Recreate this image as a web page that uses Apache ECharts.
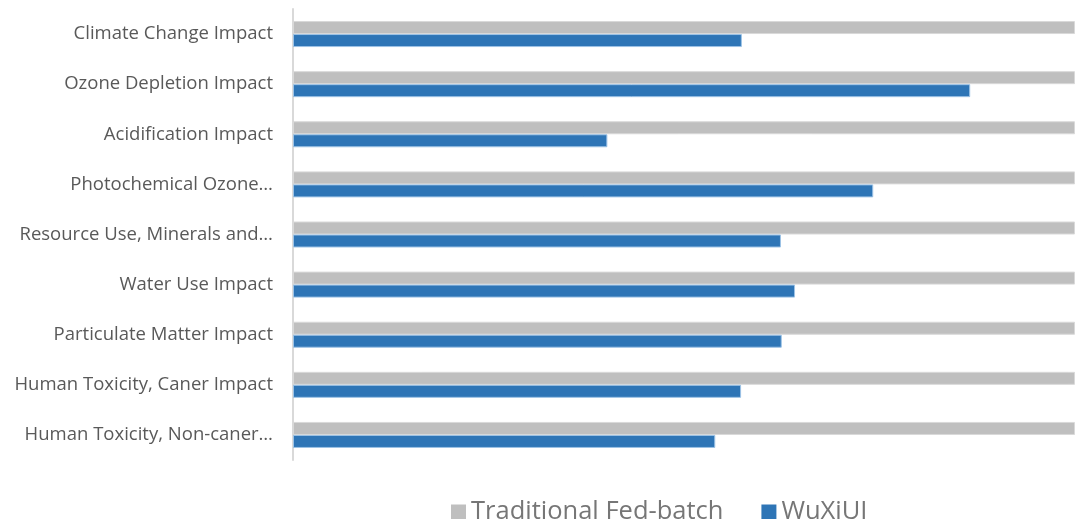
<!DOCTYPE html>
<html>
<head>
<meta charset="utf-8">
<script src="https://cdn.jsdelivr.net/npm/echarts@6/dist/echarts.min.js"></script>
<style>
  html, body { margin: 0; padding: 0; background: #fff; }
  #chart { width: 1075px; height: 519px; }
</style>
</head>
<body>
<div id="chart"></div>
<script>
// categories, top to bottom
const categories = [
  'Climate Change Impact',
  'Ozone Depletion Impact',
  'Acidification Impact',
  'Photochemical Ozone…',
  'Resource Use, Minerals and…',
  'Water Use Impact',
  'Particulate Matter Impact',
  'Human Toxicity, Caner Impact',
  'Human Toxicity, Non-caner…'
];
// relative impact, traditional process = 100
const traditionalFedBatch = [100, 100, 100, 100, 100, 100, 100, 100, 100];
const wuXiUI = [57.4, 86.6, 40.2, 74.2, 62.4, 64.2, 62.5, 57.3, 54.0];

const chart = echarts.init(document.getElementById('chart'));
chart.setOption({
  animation: false,
  textStyle: { fontFamily: 'Open Sans' },
  grid: { left: 293, right: 0, top: 9, bottom: 59 },
  legend: {
    left: 446,
    top: 494,
    itemWidth: 15,
    itemHeight: 15,
    itemGap: 38,
    icon: 'rect',
    itemStyle: { borderWidth: 0 },
    textStyle: { fontSize: 25.5, color: '#767676', fontFamily: 'Open Sans' },
    data: ['Traditional Fed-batch', 'WuXiUI']
  },
  xAxis: {
    type: 'value',
    min: 0,
    max: 100,
    show: false
  },
  yAxis: {
    type: 'category',
    inverse: true,
    data: categories,
    axisLine: { lineStyle: { color: '#D9D9D9', width: 2 } },
    axisTick: { show: false },
    axisLabel: { fontSize: 18.5, color: '#595959', margin: 20, padding: [4, 0, 0, 0] }
  },
  series: [
    {
      name: 'Traditional Fed-batch',
      type: 'bar',
      data: traditionalFedBatch,
      barWidth: 13,
      barGap: '0%',
      itemStyle: { color: '#BFBFBF', borderColor: '#D9D9D9', borderWidth: 1 }
    },
    {
      name: 'WuXiUI',
      type: 'bar',
      data: wuXiUI,
      barWidth: 13,
      barGap: '0%',
      itemStyle: { color: '#2E75B6', borderColor: '#9DC3E6', borderWidth: 1 }
    }
  ]
});
</script>
</body>
</html>
